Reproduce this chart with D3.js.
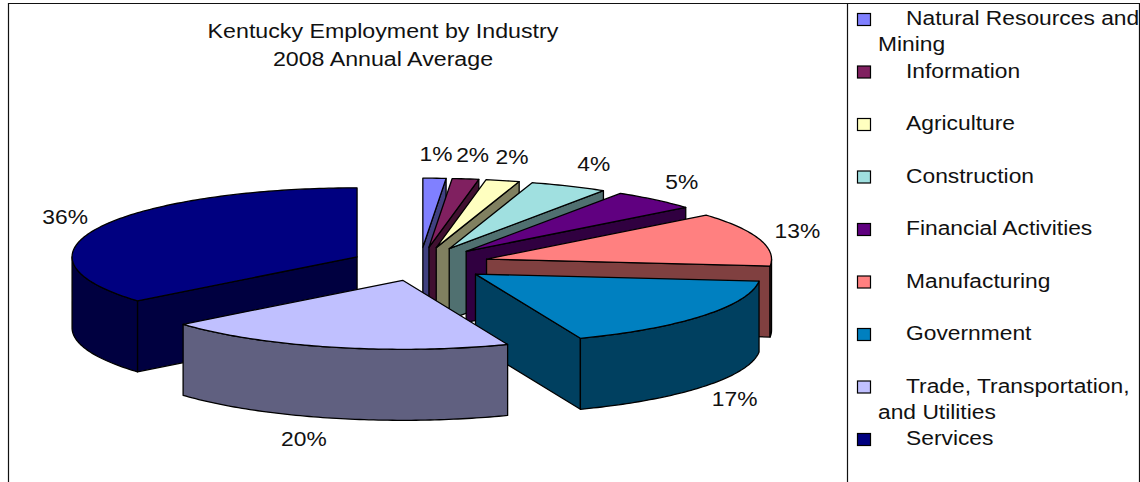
<!DOCTYPE html>
<html>
<head>
<meta charset="utf-8">
<script src="https://cdn.jsdelivr.net/npm/d3@7"></script>
<style>
  body { margin: 0; background: #fff; }
  svg { display: block; }
  text { font-family: "Liberation Sans", Arial, sans-serif; fill: #111; }
</style>
</head>
<body>
<svg id="chart" width="1140" height="482"></svg>
<script>
// slice shares (labels round to whole percents)
var industries = ['Natural Resources and Mining', 'Information', 'Agriculture', 'Construction',
                  'Financial Activities', 'Manufacturing', 'Government',
                  'Trade, Transportation, and Utilities', 'Services'];
var shares = [1.3, 1.5, 1.9, 4.4, 4.9, 12.6, 17.4, 20, 36];
var colors = ['#8080ff', '#802060', '#ffffc0', '#a0e0e0', '#600080', '#ff8080', '#0080c0', '#c0c0ff', '#000080'];
var titleLines = ['Kentucky Employment by Industry', '2008 Annual Average'];
var legendLines = [['Natural Resources and', 'Mining'], ['Information'], ['Agriculture'], ['Construction'],
                   ['Financial Activities'], ['Manufacturing'], ['Government'],
                   ['Trade, Transportation,', 'and Utilities'], ['Services']];

var width = 1140, height = 482;
var cx = 420, cy = 264;     // pie centre before exploding
var rx = 285, ry = 69;      // tilted ellipse
var depth = 71;
var explode = 0.244;
var labelRx = 1.14, labelRy = 1.33;
var labelNudge = { 'Information': 2, 'Construction': 8, 'Services': 2, 'Trade, Transportation, and Utilities': -18 };
var textStretch = 1.14;     // the original text is wider than Arial
var titleStretch = 1.16;

var svg = d3.select('#chart');
var fmt = d3.format('.0%');
var total = d3.sum(shares);

var pie = d3.pie().sort(null).value(function(d){ return d.share; });
var slices = pie(industries.map(function(name, i){
  return { name: name, share: shares[i], color: colors[i] };
}));

function sideColor(c){
  var r = d3.rgb(c);
  return d3.rgb(r.r / 2, r.g / 2, r.b / 2).formatHex();
}

// angle is clockwise from 12 o'clock, same as d3.pie
function project(angle, r, o, drop){
  return [o[0] + rx * r * Math.sin(angle), o[1] - ry * r * Math.cos(angle) + (drop || 0)];
}

function rimPoints(a0, a1, o, drop){
  var n = Math.max(2, Math.ceil((a1 - a0) * 60));
  return d3.range(n + 1).map(function(i){
    return project(a0 + (a1 - a0) * i / n, 1, o, drop);
  });
}

function stretchText(sel, k){
  sel.each(function(){
    d3.select(this)
      .attr('textLength', this.getComputedTextLength() * (k || textStretch))
      .attr('lengthAdjust', 'spacingAndGlyphs');
  });
}

var line = d3.line();

// frame
svg.append('path')
  .attr('d', 'M8.5,' + height + 'V3.5H1139.5V' + height + 'M847.5,3.5V' + height)
  .attr('fill', 'none').attr('stroke', '#111').attr('stroke-width', 1.2);

// title
svg.append('g').selectAll('text').data(titleLines).join('text')
  .attr('x', 383)
  .attr('y', function(d, i){ return 38 + i * 28; })
  .attr('text-anchor', 'middle')
  .attr('font-size', 20)
  .text(function(d){ return d; })
  .call(stretchText, titleStretch);

// services sits behind everything, rest go round in order
var drawOrder = slices.slice(-1).concat(slices.slice(0, -1));

var groups = svg.append('g').selectAll('g.slice').data(drawOrder).join('g').attr('class', 'slice');

groups.each(function(d){
  var g = d3.select(this);
  var mid = (d.startAngle + d.endAngle) / 2;
  var o = [cx + explode * rx * Math.sin(mid), cy - explode * ry * Math.cos(mid)];
  var dark = sideColor(d.data.color);
  var style = function(sel, fill){
    sel.attr('fill', fill).attr('stroke', '#000').attr('stroke-width', 1.3).attr('stroke-linejoin', 'round');
  };

  function radialWall(a){
    var p = project(a, 1, o);
    var q = project(a, 1, o, depth);
    g.append('path')
      .attr('d', line([o, p, q, [o[0], o[1] + depth]]) + 'Z')
      .call(style, dark);
  }

  // walls facing the viewer
  if (d.startAngle > Math.PI) radialWall(d.startAngle);
  if (d.endAngle < Math.PI) radialWall(d.endAngle);

  // outer rim, only the front half shows
  var a0 = Math.max(d.startAngle, Math.PI / 2);
  var a1 = Math.min(d.endAngle, Math.PI * 1.5);
  if (a1 > a0) {
    var top = rimPoints(a0, a1, o);
    var bottom = rimPoints(a0, a1, o, depth).reverse();
    g.append('path').attr('d', line(top.concat(bottom)) + 'Z').call(style, dark);
  }

  // top face
  g.append('path')
    .attr('d', line([o].concat(rimPoints(d.startAngle, d.endAngle, o))) + 'Z')
    .call(style, d.data.color);

  // percent label
  var lx = o[0] + rx * labelRx * Math.sin(mid) + (labelNudge[d.data.name] || 0);
  var ly = o[1] - ry * labelRy * Math.cos(mid) + (Math.cos(mid) < 0 ? depth : 0);
  g.append('text')
    .attr('x', lx).attr('y', ly + 6)
    .attr('text-anchor', 'middle')
    .attr('font-size', 20)
    .text(fmt(d.data.share / total))
    .call(stretchText);
});

// keep labels above the slices
svg.selectAll('g.slice').each(function(){
  svg.node().appendChild(d3.select(this).select('text').node());
});

// legend, rows are one fixed step apart, wrapped names use up the next row's gap
var rowStep = 52.5;
var legend = svg.append('g').selectAll('g').data(legendLines).join('g')
  .attr('transform', function(d, i){ return 'translate(0,' + (19 + i * rowStep) + ')'; });

legend.append('rect')
  .attr('x', 857.5).attr('y', -5.5)
  .attr('width', 13).attr('height', 12)
  .attr('fill', function(d, i){ return colors[i]; })
  .attr('stroke', '#000').attr('stroke-width', 1.2);

legend.selectAll('text').data(function(d){ return d; }).join('text')
  .attr('x', function(d, i){ return i === 0 ? 906 : 878; })
  .attr('y', function(d, i){ return 6 + i * 26; })
  .attr('font-size', 20)
  .text(function(d){ return d; })
  .call(stretchText);
</script>
</body>
</html>
